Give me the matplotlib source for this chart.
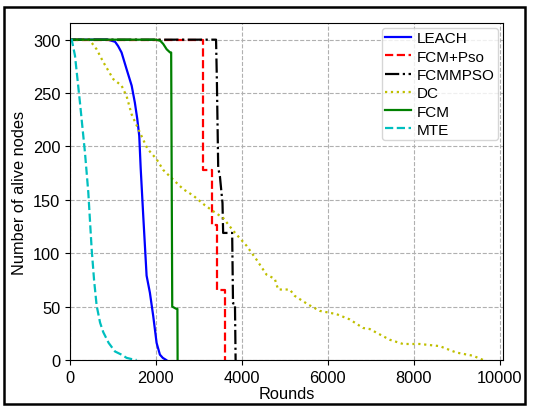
import matplotlib.pyplot as plt
from matplotlib.patches import Rectangle

plt.rcParams['font.family'] = ['Liberation Sans', 'DejaVu Sans']

# values
leach_x = [0, 880, 1050, 1120, 1200, 1320, 1435, 1510, 1565, 1612, 1645, 1705,
           1783, 1860, 1938, 2016, 2093, 2160, 2240]
leach_y = [300, 300, 298, 294, 288, 272, 257, 241, 226, 210, 180, 135,
           79, 63, 41, 16, 5, 2, 0]

fcmpso_x = [0, 3090, 3090, 3300, 3300, 3430, 3430, 3610, 3610]
fcmpso_y = [300, 300, 178, 178, 126, 126, 66, 66, 0]

fcmmpso_x = [0, 3400, 3420, 3450, 3490, 3550, 3565, 3775, 3795, 3840, 3855]
fcmmpso_y = [300, 300, 260, 180, 172, 147, 119, 119, 53, 53, 0]

dc_x = [0, 450, 620, 775, 1008, 1200, 1318, 1435, 1628, 1800, 2016, 2170,
        2400, 2635, 2868, 3138, 3382, 3566, 3800, 4110, 4342, 4574, 4767,
        4845, 5116, 5233, 5543, 5814, 6202, 6512, 6822, 6977, 7442, 7752,
        8140, 8605, 8992, 9380, 9620]
dc_y = [300, 300, 291, 279, 263, 257, 247, 230, 213, 198, 188, 178,
        169, 160, 154, 145, 138, 133, 121, 107, 94, 80, 76,
        66, 66, 60, 52, 46, 43, 38, 30, 29, 19, 15,
        15, 13, 7, 4, 0]

fcm_x = [0, 2000, 2100, 2170, 2250, 2330, 2355, 2380, 2470, 2500, 2505]
fcm_y = [300, 300, 299, 296, 291, 288, 288, 50, 48, 48, 0]

mte_x = [0, 40, 116, 232, 349, 426, 504, 560, 620, 700, 775, 900, 1047,
         1200, 1318, 1420, 1550]
mte_y = [300, 300, 285, 241, 194, 157, 104, 75, 51, 35, 26, 16, 8,
         5, 2, 1, 0]

fig = plt.figure(figsize=(5.43, 4.10), dpi=100)
ax = fig.add_axes([70 / 543, 1 - 361 / 410, 433 / 543, 337 / 410])

ax.plot(leach_x, leach_y, 'b-', lw=1.6, label='LEACH')
ax.plot(fcmpso_x, fcmpso_y, 'r--', lw=1.6, label='FCM+Pso')
ax.plot(fcmmpso_x, fcmmpso_y, 'k-.', lw=1.6, label='FCMMPSO')
ax.plot(dc_x, dc_y, 'y:', lw=1.6, label='DC')
ax.plot(fcm_x, fcm_y, 'g-', lw=1.6, label='FCM')
ax.plot(mte_x, mte_y, 'c--', lw=1.6, label='MTE')

ax.set_xlim(0, 10080)
ax.set_ylim(0, 315.6)
ax.set_xticks([0, 2000, 4000, 6000, 8000, 10000])
ax.set_yticks([0, 50, 100, 150, 200, 250, 300])
ax.tick_params(labelsize=11.8)
ax.grid(True, ls='--', color='#b0b0b0', lw=0.8)
ax.set_xlabel('Rounds', fontsize=11.8, labelpad=1)
ax.set_ylabel('Number of alive nodes', fontsize=11.8)
ax.legend(loc='upper right', fontsize=11, borderpad=0.2,
          handlelength=1.7, handletextpad=0.4, labelspacing=0.28,
          borderaxespad=0.35)

# black frame around the whole picture
fig.patches.append(Rectangle((4 / 543, 1 - 405 / 410), 521 / 543, 397 / 410,
                             transform=fig.transFigure, fill=False,
                             ec='black', lw=1.8))

fig.savefig('out.png', dpi=100)
